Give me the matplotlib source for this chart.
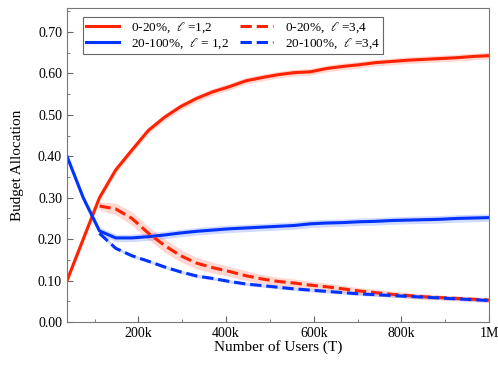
import numpy as np
import matplotlib

matplotlib.use("Agg")
import matplotlib.pyplot as plt
from matplotlib.ticker import FuncFormatter, MultipleLocator

plt.rcParams["font.family"] = ["Liberation Serif", "DejaVu Serif"]
plt.rcParams["mathtext.fontset"] = "stix"

# number of users, 27 evenly spaced steps up to 1M
users = [37037 * k for k in range(1, 28)]

red_solid = [0.100, 0.200, 0.300, 0.367, 0.415, 0.462, 0.494, 0.520, 0.540,
             0.556, 0.568, 0.582, 0.590, 0.597, 0.602, 0.604, 0.612, 0.617,
             0.621, 0.626, 0.629, 0.632, 0.634, 0.636, 0.638, 0.641, 0.643]
blue_solid = [0.400, 0.300, 0.220, 0.203, 0.203, 0.206, 0.210, 0.215, 0.219,
              0.222, 0.225, 0.227, 0.229, 0.231, 0.233, 0.237, 0.239, 0.240,
              0.242, 0.243, 0.245, 0.246, 0.247, 0.248, 0.250, 0.251, 0.252]
# l = 3,4 series start at the third step
red_dashed = [0.280, 0.273, 0.250, 0.215, 0.185, 0.160, 0.142, 0.131, 0.122,
              0.112, 0.104, 0.098, 0.094, 0.089, 0.085, 0.080, 0.075, 0.071,
              0.067, 0.064, 0.061, 0.059, 0.057, 0.055, 0.053]
blue_dashed = [0.214, 0.178, 0.160, 0.147, 0.133, 0.121, 0.111, 0.105, 0.098,
               0.092, 0.088, 0.084, 0.080, 0.077, 0.074, 0.071, 0.068, 0.066,
               0.064, 0.062, 0.060, 0.058, 0.056, 0.054, 0.052]

# half widths of the shaded bands
red_solid_band = 0.008
blue_solid_band = 0.009
red_dashed_band = [0.010, 0.014, 0.016, 0.016, 0.016, 0.015, 0.014, 0.013, 0.012,
                   0.012, 0.011, 0.010, 0.010, 0.009, 0.009, 0.008, 0.008, 0.008,
                   0.007, 0.007, 0.007, 0.006, 0.006, 0.006, 0.006]
blue_dashed_band = 0.004

RED = "#ff2200"
BLUE = "#0033ff"


def k_format(value, _pos):
    if value >= 1e6:
        return f"{value / 1e6:.0f}M"
    return f"{value / 1e3:.0f}k"


fig = plt.figure(figsize=(4.98, 3.74), dpi=100)
ax = fig.add_axes([0.1345, 0.139, 0.8475, 0.8396])

x = np.array(users)
x_dash = x[2:]

series = [
    (x, np.array(red_solid), red_solid_band, RED, "-", r"0-20%,  $\ell$ =1,2"),
    (x, np.array(blue_solid), blue_solid_band, BLUE, "-", r"20-100%,  $\ell$ = 1,2"),
    (x_dash, np.array(red_dashed), np.array(red_dashed_band), RED, "--", r"0-20%,  $\ell$ =3,4"),
    (x_dash, np.array(blue_dashed), blue_dashed_band, BLUE, "--", r"20-100%,  $\ell$ =3,4"),
]

for xs, ys, band, color, style, label in series:
    ax.fill_between(xs, ys - band, ys + band, color=color, alpha=0.18, linewidth=0)
    ax.plot(xs, ys, linestyle=style, color=color, linewidth=2.2, label=label)

ax.set_xlim(37037, 1e6)
ax.set_ylim(0, 0.758)
ax.xaxis.set_major_locator(MultipleLocator(200000))
ax.xaxis.set_minor_locator(MultipleLocator(100000))
ax.xaxis.set_major_formatter(FuncFormatter(k_format))
ax.yaxis.set_major_locator(MultipleLocator(0.1))
ax.yaxis.set_minor_locator(MultipleLocator(0.05))
ax.yaxis.set_major_formatter(FuncFormatter(lambda v, _p: f"{v:.2f}"))
ax.tick_params(which="both", direction="in", colors="#666666", labelcolor="black", labelsize=10)
ax.tick_params(which="major", length=4)
ax.tick_params(which="minor", length=2)
for spine in ax.spines.values():
    spine.set_color("#777777")

ax.set_xlabel("Number of Users (T)", fontsize=11, labelpad=0)
ax.set_ylabel("Budget Allocation", fontsize=11, labelpad=10)

legend = ax.legend(loc="upper left", ncol=2, fontsize=9.5, fancybox=False,
                   edgecolor="#666666", framealpha=1, handlelength=2.5,
                   handletextpad=0.9, columnspacing=0.8, borderpad=0.25,
                   labelspacing=0.1, borderaxespad=0,
                   bbox_to_anchor=(0.038, 0.970))
legend.get_frame().set_linewidth(0.8)

fig.savefig("out.png", dpi=100)
